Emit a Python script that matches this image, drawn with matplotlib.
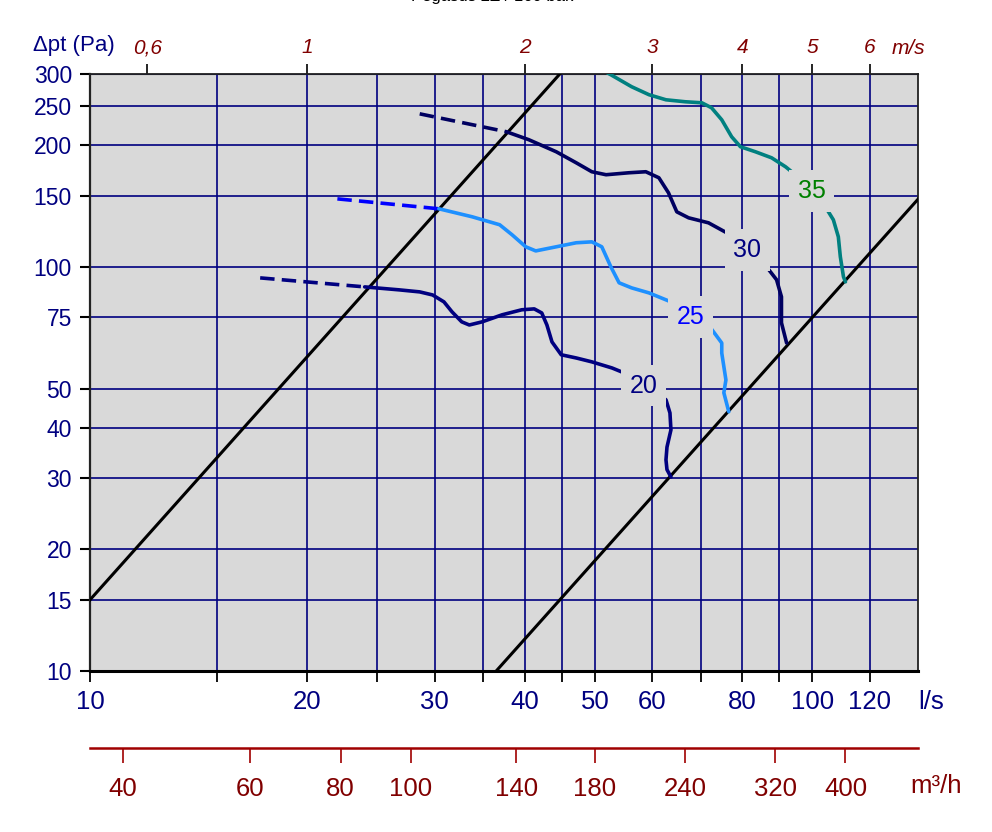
#!/usr/bin/env python3
"""Pegasus fan chart: pressure vs. air flow with sound level curves."""

import matplotlib
matplotlib.use("Agg")
import matplotlib.pyplot as plt
from matplotlib.ticker import FixedLocator, FixedFormatter, NullLocator

plt.rcParams["font.family"] = ["Liberation Sans", "DejaVu Sans"]

# Axes ticks
Q_TICKS = [10, 15, 20, 25, 30, 35, 40, 45, 50, 60, 70, 80, 90, 100, 120]
Q_LABELS = ["10", "", "20", "", "30", "", "40", "", "50", "60", "", "80", "", "100", "120"]
P_TICKS = [10, 15, 20, 30, 40, 50, 75, 100, 150, 200, 250, 300]
V_TICKS = [0.6, 1, 2, 3, 4, 5, 6]
V_LABELS = ["0,6", "1", "2", "3", "4", "5", "6"]
M3H_TICKS = [40, 60, 80, 100, 140, 180, 240, 320, 400]

# System lines (l/s, Pa)
SYS1_Q = [10, 44.7]
SYS1_P = [15, 300]
SYS2_Q = [36.5, 140]
SYS2_P = [10, 147]

# Sound level curves (l/s, Pa)
L20_DASH_Q = [17.2, 24.0]
L20_DASH_P = [93.9, 89.2]
L20_Q = [24.0, 26.8, 28.6, 29.8, 30.9, 31.7, 32.7, 33.5, 34.9, 37.2, 39.6, 41.2,
         42.2, 42.9, 43.6, 44.9, 47.1, 49.5, 52.8, 54.8, 58.4, 62.7, 63.5, 63.7,
         62.9, 62.7, 62.9, 63.7]
L20_P = [89.2, 87.7, 86.7, 85.2, 81.9, 77.4, 73.1, 71.8, 73.1, 76.1, 78.3, 78.7,
         76.9, 71.8, 65.2, 60.6, 59.5, 58.2, 56.2, 54.7, 50.8, 46.9, 43.5, 39.5,
         35.8, 33.3, 31.5, 30.2]

L25_DASH_Q = [22.0, 30.4]
L25_DASH_P = [147.3, 139.2]
L25_Q = [30.4, 33.8, 36.9, 38.4, 40.1, 41.4, 44.2, 47.1, 49.5, 51.1, 52.6, 54.0,
         56.2, 59.4, 63.7, 67.8, 72.3, 74.9, 74.9, 75.9, 75.4, 76.6]
L25_P = [139.2, 133.0, 127.1, 120.0, 112.1, 109.5, 112.1, 114.7, 115.3, 112.1, 100.0, 91.3,
         88.7, 86.2, 81.9, 75.2, 70.6, 64.8, 61.2, 52.5, 48.8, 43.8]

L30_DASH_Q = [28.6, 37.7]
L30_DASH_P = [239.1, 215.9]
L30_Q = [37.7, 40.5, 44.2, 47.1, 49.5, 51.8, 55.7, 58.8, 61.3, 63.2, 64.9, 67.4,
         71.8, 77.0, 81.3, 86.4, 89.2, 90.6, 90.6, 92.1]
L30_P = [215.9, 206.3, 192.6, 180.9, 171.9, 169.0, 170.9, 171.9, 166.1, 152.5, 136.8, 132.2,
         128.5, 120.0, 110.2, 100.0, 92.9, 84.3, 72.7, 64.8]

L35_Q = [52.0, 52.6, 56.2, 59.4, 62.7, 66.7, 70.3, 72.5, 74.9, 77.3, 79.5, 83.4,
         87.8, 91.8, 94.7, 99.7, 104.2, 106.9, 108.6, 109.3, 110.4, 111.1]
L35_P = [302, 298.7, 279.0, 266.6, 259.0, 256.1, 254.6, 247.5, 231.1, 209.8, 198.2, 192.6,
         186.1, 176.8, 169.0, 154.2, 140.8, 130.7, 118.7, 105.9, 94.5, 91.8]

LEVELS = ["20", "25", "30", "35"]
LEVEL_Q = [58.4, 67.8, 81.3, 99.7]
LEVEL_P = [50.8, 75.2, 110.2, 154.2]

BG = "#d9d9d9"
NAVY = "#000080"
DARKRED = "#800000"


def main():
    fig = plt.figure(figsize=(9.92, 8.32), dpi=100)
    left, right = 90 / 992, 918 / 992
    bottom, top = 161 / 832, 758 / 832
    ax = fig.add_axes([left, bottom, right - left, top - bottom])
    ax.set_facecolor(BG)
    ax.set_xscale("log")
    ax.set_yscale("log")
    ax.set_xlim(10, 140)
    ax.set_ylim(10, 300)

    ax.xaxis.set_major_locator(FixedLocator(Q_TICKS))
    ax.xaxis.set_major_formatter(FixedFormatter(Q_LABELS))
    ax.xaxis.set_minor_locator(NullLocator())
    ax.yaxis.set_major_locator(FixedLocator(P_TICKS))
    ax.yaxis.set_major_formatter(FixedFormatter([str(p) for p in P_TICKS]))
    ax.yaxis.set_minor_locator(NullLocator())

    ax.grid(True, color=NAVY, lw=1.2)
    ax.set_axisbelow(True)
    ax.tick_params(axis="x", direction="out", length=8, width=1.3, color="black",
                   labelcolor=NAVY, labelsize=18.5, pad=6)
    ax.tick_params(axis="y", direction="out", length=7, width=1.5, color="black",
                   labelcolor=NAVY, labelsize=16.5, pad=6)
    for side in ["left", "top", "right"]:
        ax.spines[side].set_color("#222222")
        ax.spines[side].set_linewidth(1.3)
    ax.spines["left"].set_linewidth(1.6)
    ax.spines["bottom"].set_color("black")
    ax.spines["bottom"].set_linewidth(2.2)

    # system lines
    ax.plot(SYS1_Q, SYS1_P, color="black", lw=2.2, zorder=3)
    ax.plot(SYS2_Q, SYS2_P, color="black", lw=2.2, zorder=3)

    # sound level curves
    dash = (0, (4, 2))
    kw = dict(lw=2.6, zorder=4, solid_joinstyle="round", solid_capstyle="round")
    ax.plot(L20_DASH_Q, L20_DASH_P, color=NAVY, lw=2.6, ls=dash, zorder=4)
    ax.plot(L20_Q, L20_P, color=NAVY, **kw)
    ax.plot(L25_DASH_Q, L25_DASH_P, color="#0000ff", lw=2.6, ls=dash, zorder=4)
    ax.plot(L25_Q, L25_P, color="#1e90ff", **kw)
    ax.plot(L30_DASH_Q, L30_DASH_P, color="#000060", lw=2.6, ls=dash, zorder=4)
    ax.plot(L30_Q, L30_P, color="#000060", **kw)
    ax.plot(L35_Q, L35_P, color="#008080", **kw)

    label_colors = [NAVY, "#0000ff", NAVY, "#008000"]
    for txt, q, p, c in zip(LEVELS, LEVEL_Q, LEVEL_P, label_colors):
        ax.text(q, p, txt, color=c, fontsize=18, ha="center", va="center", zorder=6,
                bbox=dict(boxstyle="square,pad=0.35", facecolor=BG,
                          edgecolor="none", alpha=1.0))

    # top axis: velocity m/s
    sec = ax.secondary_xaxis("top", functions=(lambda q: q / 20.0, lambda v: v * 20.0))
    sec.set_xticks(V_TICKS)
    sec.set_xticklabels(V_LABELS)
    sec.xaxis.set_minor_locator(NullLocator())
    sec.tick_params(direction="out", length=7, width=1.2, color="black",
                    labelcolor=DARKRED, labelsize=15, pad=5)
    for lab in sec.get_xticklabels():
        lab.set_style("italic")
    sec.spines["top"].set_color("#222222")

    # m3/h axis below
    ax3 = fig.add_axes([left, (832 - 748) / 832, right - left, 1e-4])
    ax3.set_xscale("log")
    ax3.set_xlim(10 * 3.6, 140 * 3.6)
    ax3.set_xticks(M3H_TICKS)
    ax3.set_xticklabels([str(m) for m in M3H_TICKS])
    ax3.xaxis.set_minor_locator(NullLocator())
    ax3.set_yticks([])
    ax3.patch.set_alpha(0)
    for side in ["left", "top", "right"]:
        ax3.spines[side].set_visible(False)
    ax3.spines["bottom"].set_color("#a00000")
    ax3.spines["bottom"].set_linewidth(1.8)
    ax3.tick_params(axis="x", direction="out", length=11, width=1.2, color="#a00000",
                    labelcolor=DARKRED, labelsize=18.5, pad=10)

    # unit labels
    fig.text(74 / 992, 1 - 45 / 832, "\u0394pt (Pa)", color=NAVY, fontsize=16,
             ha="center", va="center")
    fig.text(908 / 992, 1 - 48 / 832, "m/s", color=DARKRED, fontsize=15,
             style="italic", ha="center", va="center")
    fig.text(931 / 992, 1 - 702 / 832, "l/s", color=NAVY, fontsize=18.5,
             ha="center", va="center")
    fig.text(936 / 992, 1 - 786 / 832, "m\u00b3/h", color=DARKRED, fontsize=18.5,
             ha="center", va="center")
    fig.text(492 / 992, 1 + 4 / 832, "Pegasus 2Z / 160 bak", color="black",
             fontsize=12, ha="center", va="center")

    fig.savefig("out.png", dpi=100)
    plt.close(fig)


if __name__ == "__main__":
    main()
